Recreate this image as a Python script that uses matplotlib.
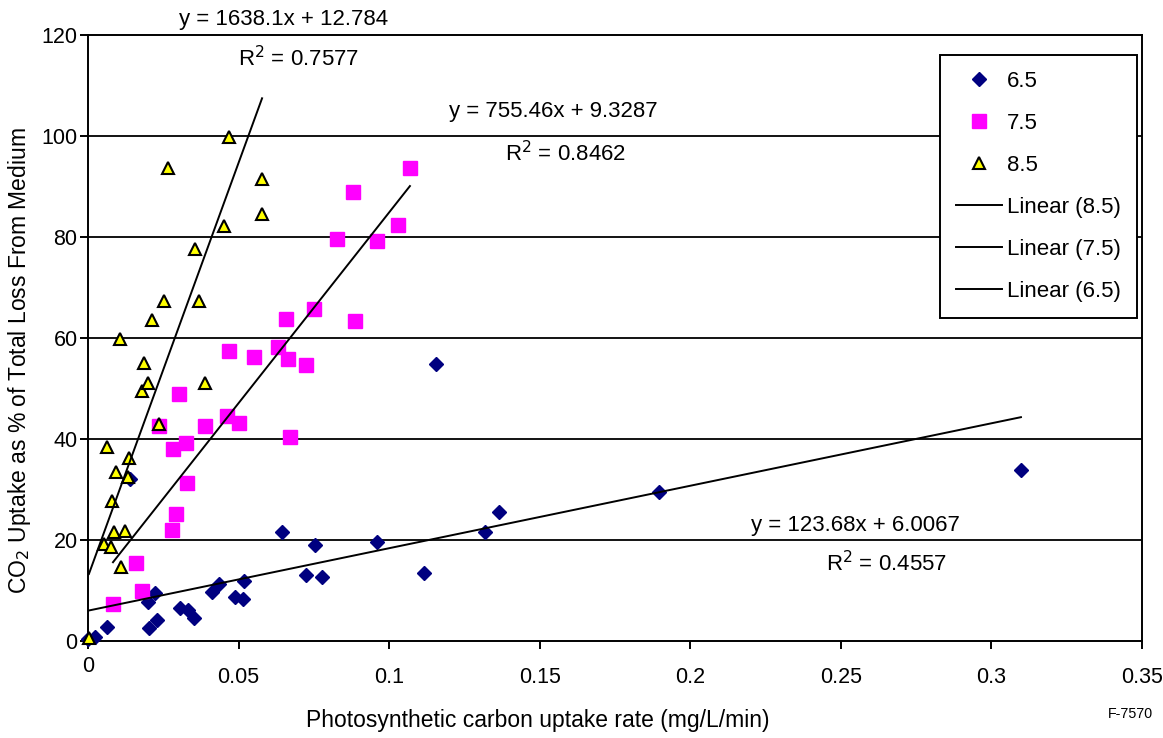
import matplotlib
matplotlib.use("Agg")
import matplotlib.pyplot as plt
import matplotlib.transforms as mtransforms
from matplotlib.lines import Line2D
import numpy as np

plt.rcParams['font.family'] = ['Liberation Sans', 'DejaVu Sans']

# ---- data ----
x65 = [0.0, 0.0023, 0.0063, 0.014, 0.020, 0.0203, 0.0222, 0.0229, 0.0306, 0.0332, 0.0352,
       0.0412, 0.0435, 0.0488, 0.0515, 0.0518, 0.0644, 0.0724, 0.0754, 0.0777, 0.096,
       0.1116, 0.1156, 0.1318, 0.1365, 0.1896, 0.3098]
y65 = [0.3, 0.8, 2.8, 32.1, 7.8, 2.6, 9.5, 4.2, 6.5, 6.1, 4.6,
       9.7, 11.3, 8.7, 8.3, 11.9, 21.6, 13.1, 19.0, 12.7, 19.6,
       13.5, 54.9, 21.6, 25.5, 29.5, 33.9]

x75 = [0.0083, 0.016, 0.0179, 0.0236, 0.0279, 0.0282, 0.0292, 0.0302, 0.0325, 0.0329,
       0.0389, 0.0462, 0.0468, 0.0501, 0.0551, 0.0631, 0.0658, 0.0664, 0.0671, 0.0724,
       0.075, 0.0827, 0.088, 0.0887, 0.096, 0.103, 0.1069]
y75 = [7.3, 15.4, 10.0, 42.5, 22.0, 38.0, 25.1, 48.9, 39.2, 31.3,
       42.6, 44.6, 57.4, 43.2, 56.2, 58.2, 63.8, 55.8, 40.4, 54.7,
       65.7, 79.6, 88.9, 63.4, 79.2, 82.4, 93.7]

x85 = [0.0003, 0.0053, 0.0063, 0.0076, 0.008, 0.0086, 0.0093, 0.0106, 0.011, 0.0123,
       0.0133, 0.0136, 0.0179, 0.0186, 0.020, 0.0212, 0.0236, 0.0252, 0.0266, 0.0355,
       0.0369, 0.039, 0.0452, 0.0468, 0.0578, 0.0578]
y85 = [0.5, 19.2, 38.4, 18.6, 27.7, 21.6, 33.5, 59.8, 14.7, 21.8,
       32.5, 36.2, 49.5, 55.0, 51.0, 63.6, 43.0, 67.3, 93.7, 77.6,
       67.3, 51.1, 82.2, 99.8, 91.5, 84.6]

# trendline coefficients (slope, intercept) as printed on chart
fit65 = (123.68, 6.0067)
fit75 = (755.46, 9.3287)
fit85 = (1638.1, 12.784)

eq_labels = ["y = 1638.1x + 12.784", "y = 755.46x + 9.3287", "y = 123.68x + 6.0067"]
r2_labels = ["0.7577", "0.8462", "0.4557"]

xticks = [0, 0.05, 0.1, 0.15, 0.2, 0.25, 0.3, 0.35]
xticklabels = ["0", "0.05", "0.1", "0.15", "0.2", "0.25", "0.3", "0.35"]
yticks = [0, 20, 40, 60, 80, 100, 120]

W, H = 1163, 738
fig = plt.figure(figsize=(W / 100, H / 100), dpi=100)
ax = fig.add_axes([88 / W, 1 - 641 / H, (1142 - 88) / W, (641 - 35) / H])

ax.set_xlim(0, 0.35)
ax.set_ylim(0, 120)

for v in yticks[1:-1]:
    ax.axhline(v, color='black', lw=1.3, zorder=1)

ax.plot(x65, y65, linestyle='none', marker='D', markersize=7.4, color='#000080',
        markeredgecolor='#000080', zorder=3, label='6.5', clip_on=False)
ax.plot(x75, y75, linestyle='none', marker='s', markersize=9.8, color='#FF00FF',
        markeredgecolor='#FF00FF', zorder=4, label='7.5', clip_on=False)
ax.plot(x85, y85, linestyle='none', marker='^', markersize=9, color='#FFFF00',
        markeredgecolor='black', markeredgewidth=1.5, zorder=5, label='8.5', clip_on=False)

def trend(xs, fit):
    xx = np.array([min(xs), max(xs)])
    return xx, fit[0] * xx + fit[1]

for xs, fit in [(x85, fit85), (x75, fit75), (x65, fit65)]:
    xx, yy = trend(xs, fit)
    ax.plot(xx, yy, color='black', lw=1.4, zorder=6)

for s in ax.spines.values():
    s.set_linewidth(1.4)
    s.set_color('black')

ax.set_xticks(xticks)
ax.set_xticklabels(xticklabels)
ax.set_yticks(yticks)
ax.tick_params(axis='both', labelsize=15.5, direction='out', length=6, width=1.4, colors='black')
ax.tick_params(axis='x', pad=13)
ax.tick_params(axis='y', pad=1.5)

# shift the x "0" label upward like the original
lbl0 = ax.get_xticklabels()[0]
lbl0.set_transform(lbl0.get_transform() + mtransforms.ScaledTranslation(0, 11 / 100, fig.dpi_scale_trans))

def ftext(px, py, s, **kw):
    fig.text(px / W, 1 - py / H, s, ha='center', va='center', **kw)

ftext(538, 721, "Photosynthetic carbon uptake rate (mg/L/min)", fontsize=16.5)
ftext(20, 361, "CO$_2$ Uptake as % of Total Loss From Medium", fontsize=16.5, rotation=90)
ftext(1130, 714, "F-7570", fontsize=10.3)

ftext(284, 19, eq_labels[0], fontsize=16)
ftext(298, 59, "R$^2$ = " + r2_labels[0], fontsize=16)
ftext(553, 112, eq_labels[1], fontsize=16)
ftext(566, 154, "R$^2$ = " + r2_labels[1], fontsize=16)
ftext(855, 526, eq_labels[2], fontsize=16)
ftext(886, 564, "R$^2$ = " + r2_labels[2], fontsize=16)

handles = [
    Line2D([], [], linestyle='none', marker='D', markersize=7.4, color='#000080'),
    Line2D([], [], linestyle='none', marker='s', markersize=9.8, color='#FF00FF'),
    Line2D([], [], linestyle='none', marker='^', markersize=9, color='#FFFF00',
           markeredgecolor='black', markeredgewidth=1.5),
    Line2D([], [], color='black', lw=1.4),
    Line2D([], [], color='black', lw=1.4),
    Line2D([], [], color='black', lw=1.4),
]
labels = ['6.5', '7.5', '8.5', 'Linear (8.5)', 'Linear (7.5)', 'Linear (6.5)']
leg = ax.legend(handles, labels, loc='upper left', bbox_to_anchor=(940 / W, 1 - 55 / H),
                bbox_transform=fig.transFigure, fontsize=16, frameon=True, fancybox=False,
                edgecolor='black', framealpha=1, labelspacing=0.95, handlelength=2.1,
                handletextpad=0.23, borderpad=0.7, borderaxespad=0, numpoints=1)
leg.get_frame().set_linewidth(1.4)
leg.set_zorder(10)

fig.savefig("out.png", dpi=100)
